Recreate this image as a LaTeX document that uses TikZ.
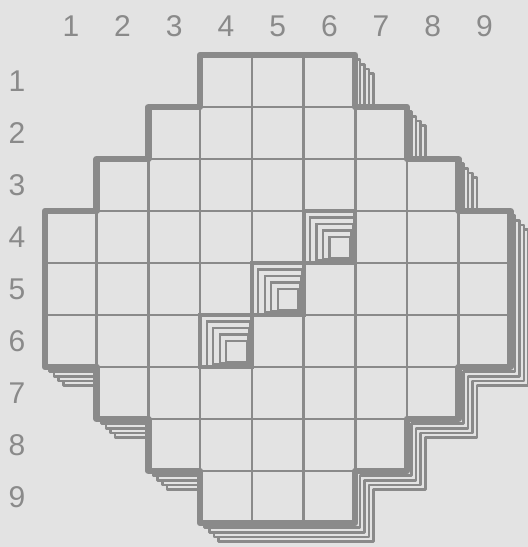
\documentclass[tikz,border=0pt]{standalone}
\usepackage{fontspec}
\setmainfont{Liberation Sans}
\definecolor{paper}{RGB}{227,227,227}
\definecolor{ink}{RGB}{138,138,138}

\begin{document}
\begin{tikzpicture}[x=51.7pt,y=-52pt,
          cell/.style={draw=ink,line width=2.6pt},
          rim/.style={draw=ink,line width=6.5pt,line join=round},
          layer/.style={draw=ink,fill=paper,line width=2.6pt,line join=round},
          wall/.style={draw=ink,fill=paper,line width=2.2pt},
          lbl/.style={text=ink,font=\fontsize{30}{30}\selectfont}]
          \fill[paper] (-45pt,55pt) rectangle (483pt,-492pt);
          \useasboundingbox (-45pt,55pt) rectangle (483pt,-492pt);
          % stacked layers below the top one
          \foreach \k in {4,3,2,1}
            \draw[layer,shift={(\k*4.6pt,-\k*4.6pt)}] (3,0) -- (6,0) -- (6,1) -- (7,1) -- (7,2) -- (8,2) -- (8,3) -- (9,3) -- (9,6) -- (8,6) -- (8,7) -- (7,7) -- (7,8) -- (6,8) -- (6,9) -- (3,9) -- (3,8) -- (2,8) -- (2,7) -- (1,7) -- (1,6) -- (0,6) -- (0,3) -- (1,3) -- (1,2) -- (2,2) -- (2,1) -- (3,1) -- cycle;
          % top layer and its cells
          \fill[paper] (3,0) -- (6,0) -- (6,1) -- (7,1) -- (7,2) -- (8,2) -- (8,3) -- (9,3) -- (9,6) -- (8,6) -- (8,7) -- (7,7) -- (7,8) -- (6,8) -- (6,9) -- (3,9) -- (3,8) -- (2,8) -- (2,7) -- (1,7) -- (1,6) -- (0,6) -- (0,3) -- (1,3) -- (1,2) -- (2,2) -- (2,1) -- (3,1) -- cycle;
          \foreach \r/\a/\b in {1/4/6,2/3/7,3/2/8,4/1/9,5/1/9,6/1/9,7/2/8,8/3/7,9/4/6}
            \foreach \c in {\a,...,\b}
              \draw[cell] (\c-1,\r-1) rectangle (\c,\r);
          % holes
          \foreach \c/\r in {6/4,5/5,4/6} {
            \foreach \k in {1,...,4}
              \draw[wall] ([xshift=\k*6.5pt,yshift=-\k*6.5pt]\c-1,\r-1) rectangle ([xshift=-\k*1.3pt,yshift=\k*1.3pt]\c,\r);
            \draw[draw=ink,line width=4pt] (\c-1,\r-1) rectangle (\c,\r);
          }
          \draw[rim] (3,0) -- (6,0) -- (6,1) -- (7,1) -- (7,2) -- (8,2) -- (8,3) -- (9,3) -- (9,6) -- (8,6) -- (8,7) -- (7,7) -- (7,8) -- (6,8) -- (6,9) -- (3,9) -- (3,8) -- (2,8) -- (2,7) -- (1,7) -- (1,6) -- (0,6) -- (0,3) -- (1,3) -- (1,2) -- (2,2) -- (2,1) -- (3,1) -- cycle;
          % labels
          \foreach \n in {1,...,9} {
            \node[lbl] (col\n) at (\n-0.5,-0.56) {\n};
            \node[lbl] (row\n) at (-0.54,\n-0.5) {\n};
          }
        \end{tikzpicture}
\end{document}
